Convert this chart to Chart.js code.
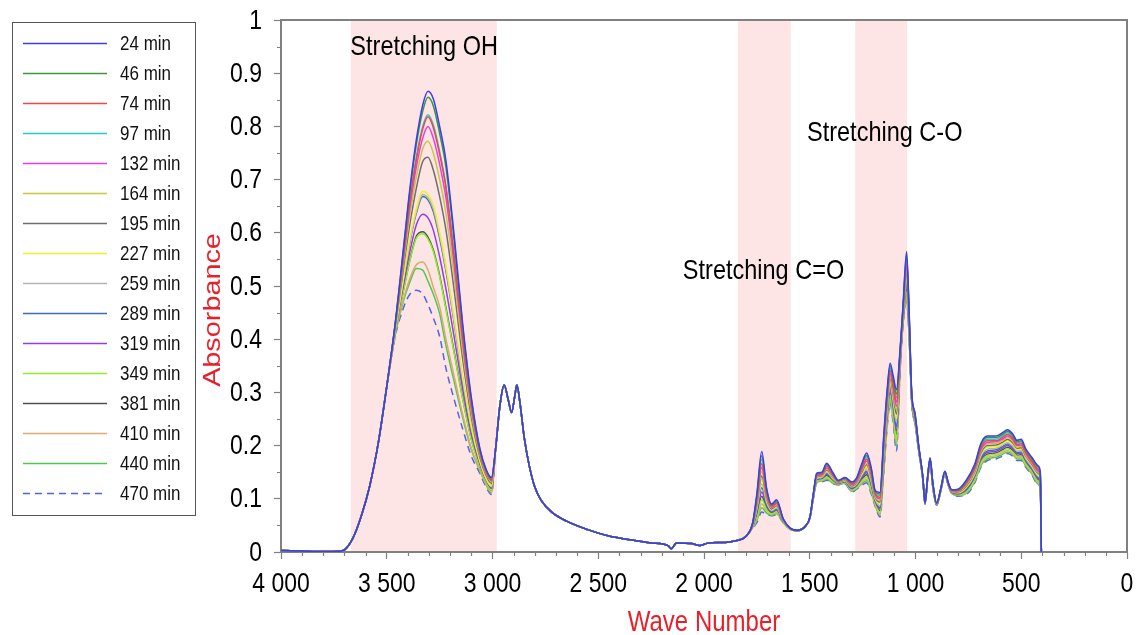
<!DOCTYPE html>
<html>
<head>
<meta charset="utf-8">
<title>FTIR absorbance</title>
<script src="https://cdn.jsdelivr.net/npm/chart.js@4.4.1/dist/chart.umd.min.js"></script>
<style>
  html, body { margin: 0; padding: 0; background: #fff; }
  canvas { display: block; }
</style>
</head>
<body>
<canvas id="ftirChart" width="1139" height="635"></canvas>
<script>
// series names
const times = ['24 min', '46 min', '74 min', '97 min', '132 min', '164 min', '195 min', '227 min',
  '259 min', '289 min', '319 min', '349 min', '381 min', '410 min', '440 min', '470 min'];

// wave numbers (cm-1), split in the regions of the spectrum
const waveEdge = [4000, 3900, 3800, 3720, 3700, 3660, 3620, 3580, 3540, 3500];
const waveOH = [3460, 3420, 3390, 3360, 3330, 3305, 3280, 3250, 3220, 3180, 3140, 3100, 3060, 3030, 3005];
const waveCH = [2985, 2965, 2945, 2925, 2910, 2895, 2885, 2870, 2850, 2825, 2800, 2770, 2720, 2650,
  2550, 2450, 2350, 2250, 2170, 2155, 2130, 2060, 2020, 1980, 1900, 1850, 1800];
const waveFinger = [1770, 1750, 1727, 1704, 1680, 1657, 1625, 1593, 1560, 1522, 1499, 1483, 1467, 1443,
  1420, 1389, 1365, 1333, 1302, 1278, 1255, 1231, 1210, 1190, 1168, 1150, 1135, 1120, 1105, 1090, 1073,
  1058, 1042, 1030, 1018, 1002, 985, 965, 955, 943, 931, 918, 900, 880, 861, 845, 829, 800, 760, 720,
  690, 660, 620, 590, 565, 540, 520, 500, 480, 450, 420, 410, 405];

// parts where all the curves lie on top of each other
const edgeAbs = [0.003, 0.002, 0.001, 0.002, 0.004, 0.026, 0.068, 0.125, 0.205, 0.311];
const chAbs = [0.195, 0.275, 0.314, 0.285, 0.262, 0.292, 0.314, 0.280, 0.215, 0.160, 0.122, 0.097, 0.075,
  0.058, 0.042, 0.030, 0.023, 0.017, 0.012, 0.006, 0.017, 0.016, 0.012, 0.017, 0.018, 0.021, 0.030];

// OH band, one array per time
const oh24 = [0.430, 0.575, 0.685, 0.775, 0.840, 0.866, 0.852, 0.800, 0.735, 0.590, 0.425, 0.290, 0.195, 0.155, 0.140];
const oh46 = [0.429, 0.571, 0.679, 0.766, 0.829, 0.855, 0.839, 0.787, 0.723, 0.580, 0.419, 0.286, 0.193, 0.154, 0.139];
const oh74 = [0.427, 0.560, 0.659, 0.738, 0.795, 0.818, 0.798, 0.748, 0.684, 0.550, 0.399, 0.276, 0.189, 0.151, 0.136];
const oh97 = [0.427, 0.561, 0.661, 0.742, 0.800, 0.822, 0.803, 0.753, 0.688, 0.553, 0.402, 0.277, 0.189, 0.151, 0.136];
const oh132 = [0.426, 0.554, 0.649, 0.724, 0.778, 0.800, 0.778, 0.729, 0.665, 0.535, 0.390, 0.270, 0.187, 0.149, 0.134];
const oh164 = [0.424, 0.546, 0.634, 0.705, 0.758, 0.772, 0.750, 0.700, 0.636, 0.513, 0.376, 0.262, 0.183, 0.147, 0.132];
const oh195 = [0.422, 0.537, 0.618, 0.684, 0.734, 0.742, 0.718, 0.668, 0.605, 0.488, 0.360, 0.253, 0.179, 0.144, 0.129];
const oh227 = [0.417, 0.517, 0.590, 0.645, 0.678, 0.672, 0.652, 0.601, 0.538, 0.436, 0.327, 0.235, 0.171, 0.138, 0.124];
const oh259 = [0.417, 0.515, 0.586, 0.640, 0.672, 0.666, 0.645, 0.595, 0.532, 0.431, 0.324, 0.233, 0.171, 0.138, 0.123];
const oh289 = [0.417, 0.514, 0.584, 0.637, 0.668, 0.662, 0.640, 0.590, 0.528, 0.428, 0.321, 0.232, 0.170, 0.137, 0.123];
const oh319 = [0.415, 0.504, 0.566, 0.615, 0.635, 0.628, 0.605, 0.555, 0.494, 0.401, 0.304, 0.222, 0.166, 0.135, 0.120];
const oh349 = [0.412, 0.493, 0.548, 0.590, 0.598, 0.588, 0.565, 0.517, 0.455, 0.371, 0.285, 0.211, 0.161, 0.131, 0.117];
const oh381 = [0.412, 0.494, 0.550, 0.594, 0.602, 0.592, 0.568, 0.520, 0.459, 0.374, 0.287, 0.212, 0.162, 0.132, 0.117];
const oh410 = [0.409, 0.476, 0.515, 0.540, 0.545, 0.530, 0.498, 0.461, 0.400, 0.328, 0.257, 0.195, 0.155, 0.127, 0.113];
const oh440 = [0.408, 0.473, 0.508, 0.533, 0.530, 0.509, 0.485, 0.448, 0.388, 0.318, 0.251, 0.192, 0.153, 0.126, 0.111];
const oh470 = [0.405, 0.460, 0.485, 0.492, 0.485, 0.465, 0.440, 0.405, 0.345, 0.285, 0.230, 0.180, 0.148, 0.122, 0.108];

// C=O, C-O and low wave number part, one array per time
const fp24 = [0.055, 0.110, 0.189, 0.120, 0.090, 0.098, 0.062, 0.045, 0.041, 0.048, 0.066, 0.110, 0.148, 0.150, 0.167, 0.148, 0.135, 0.140, 0.132, 0.140, 0.165, 0.186, 0.160, 0.115, 0.112, 0.220, 0.300, 0.355, 0.330, 0.305, 0.380, 0.470, 0.565, 0.450, 0.300, 0.260, 0.200, 0.140, 0.092, 0.140, 0.177, 0.130, 0.092, 0.120, 0.152, 0.130, 0.117, 0.118, 0.135, 0.165, 0.205, 0.218, 0.218, 0.224, 0.230, 0.222, 0.210, 0.212, 0.195, 0.178, 0.162, 0.150, 0];
const fp46 = [0.054, 0.106, 0.181, 0.117, 0.089, 0.096, 0.062, 0.045, 0.041, 0.048, 0.066, 0.109, 0.147, 0.149, 0.165, 0.147, 0.134, 0.139, 0.131, 0.139, 0.162, 0.182, 0.157, 0.113, 0.109, 0.215, 0.295, 0.350, 0.324, 0.297, 0.377, 0.467, 0.559, 0.447, 0.299, 0.259, 0.199, 0.140, 0.092, 0.140, 0.176, 0.129, 0.092, 0.120, 0.152, 0.130, 0.117, 0.117, 0.133, 0.163, 0.202, 0.215, 0.215, 0.221, 0.227, 0.219, 0.207, 0.209, 0.193, 0.176, 0.160, 0.148, 0];
const fp97 = [0.054, 0.103, 0.174, 0.113, 0.087, 0.094, 0.061, 0.045, 0.041, 0.048, 0.066, 0.109, 0.146, 0.148, 0.163, 0.145, 0.134, 0.138, 0.129, 0.137, 0.160, 0.179, 0.153, 0.111, 0.106, 0.211, 0.291, 0.345, 0.318, 0.290, 0.375, 0.465, 0.552, 0.443, 0.297, 0.257, 0.199, 0.140, 0.092, 0.140, 0.175, 0.129, 0.091, 0.120, 0.151, 0.130, 0.116, 0.116, 0.131, 0.160, 0.199, 0.212, 0.212, 0.218, 0.224, 0.216, 0.205, 0.207, 0.190, 0.174, 0.157, 0.146, 0];
const fp74 = [0.053, 0.099, 0.166, 0.110, 0.086, 0.092, 0.061, 0.045, 0.041, 0.048, 0.066, 0.108, 0.144, 0.146, 0.161, 0.144, 0.133, 0.138, 0.128, 0.136, 0.157, 0.175, 0.150, 0.109, 0.103, 0.206, 0.286, 0.340, 0.312, 0.282, 0.372, 0.462, 0.546, 0.440, 0.296, 0.256, 0.198, 0.139, 0.092, 0.139, 0.175, 0.128, 0.091, 0.119, 0.151, 0.129, 0.116, 0.115, 0.130, 0.158, 0.196, 0.209, 0.209, 0.215, 0.221, 0.214, 0.202, 0.204, 0.188, 0.171, 0.155, 0.144, 0];
const fp132 = [0.052, 0.095, 0.159, 0.107, 0.084, 0.091, 0.060, 0.045, 0.041, 0.048, 0.066, 0.107, 0.143, 0.145, 0.158, 0.143, 0.133, 0.137, 0.127, 0.134, 0.154, 0.171, 0.147, 0.107, 0.100, 0.201, 0.281, 0.335, 0.306, 0.274, 0.369, 0.459, 0.540, 0.437, 0.295, 0.255, 0.197, 0.139, 0.092, 0.139, 0.174, 0.127, 0.091, 0.119, 0.150, 0.129, 0.115, 0.115, 0.128, 0.156, 0.193, 0.206, 0.207, 0.212, 0.218, 0.211, 0.200, 0.201, 0.186, 0.169, 0.152, 0.142, 0];
const fp164 = [0.052, 0.092, 0.151, 0.103, 0.083, 0.089, 0.060, 0.044, 0.041, 0.048, 0.065, 0.107, 0.142, 0.144, 0.156, 0.141, 0.132, 0.136, 0.126, 0.133, 0.152, 0.167, 0.143, 0.105, 0.097, 0.197, 0.277, 0.330, 0.300, 0.267, 0.367, 0.457, 0.533, 0.433, 0.293, 0.253, 0.197, 0.139, 0.091, 0.139, 0.173, 0.127, 0.091, 0.119, 0.150, 0.129, 0.115, 0.114, 0.126, 0.153, 0.190, 0.203, 0.204, 0.209, 0.215, 0.208, 0.197, 0.199, 0.183, 0.167, 0.150, 0.140, 0];
const fp195 = [0.051, 0.088, 0.143, 0.100, 0.081, 0.087, 0.059, 0.044, 0.041, 0.048, 0.065, 0.106, 0.141, 0.143, 0.154, 0.140, 0.131, 0.135, 0.124, 0.131, 0.149, 0.164, 0.140, 0.103, 0.094, 0.192, 0.272, 0.325, 0.294, 0.259, 0.364, 0.454, 0.527, 0.430, 0.292, 0.252, 0.196, 0.138, 0.091, 0.138, 0.172, 0.126, 0.090, 0.118, 0.149, 0.128, 0.114, 0.113, 0.124, 0.151, 0.187, 0.200, 0.201, 0.206, 0.212, 0.205, 0.195, 0.196, 0.181, 0.165, 0.148, 0.138, 0];
const fp227 = [0.050, 0.084, 0.136, 0.097, 0.080, 0.085, 0.059, 0.044, 0.041, 0.048, 0.065, 0.105, 0.140, 0.142, 0.152, 0.139, 0.131, 0.134, 0.123, 0.130, 0.146, 0.160, 0.137, 0.101, 0.091, 0.187, 0.267, 0.320, 0.288, 0.251, 0.361, 0.451, 0.521, 0.427, 0.291, 0.251, 0.195, 0.138, 0.091, 0.138, 0.171, 0.125, 0.090, 0.118, 0.149, 0.128, 0.114, 0.112, 0.122, 0.149, 0.184, 0.197, 0.198, 0.203, 0.209, 0.202, 0.192, 0.193, 0.179, 0.163, 0.145, 0.136, 0];
const fp259 = [0.050, 0.081, 0.128, 0.093, 0.078, 0.083, 0.058, 0.044, 0.040, 0.048, 0.065, 0.105, 0.138, 0.140, 0.150, 0.137, 0.130, 0.134, 0.122, 0.128, 0.144, 0.156, 0.133, 0.099, 0.087, 0.183, 0.263, 0.315, 0.282, 0.244, 0.359, 0.449, 0.514, 0.423, 0.289, 0.249, 0.195, 0.137, 0.091, 0.137, 0.171, 0.125, 0.090, 0.117, 0.148, 0.127, 0.113, 0.111, 0.121, 0.146, 0.181, 0.193, 0.195, 0.201, 0.206, 0.199, 0.190, 0.191, 0.176, 0.160, 0.143, 0.134, 0];
const fp289 = [0.049, 0.077, 0.121, 0.090, 0.077, 0.081, 0.058, 0.044, 0.040, 0.048, 0.065, 0.104, 0.137, 0.139, 0.148, 0.136, 0.130, 0.133, 0.121, 0.127, 0.141, 0.152, 0.130, 0.097, 0.084, 0.178, 0.258, 0.310, 0.276, 0.236, 0.356, 0.446, 0.508, 0.420, 0.288, 0.248, 0.194, 0.137, 0.091, 0.137, 0.170, 0.124, 0.090, 0.117, 0.148, 0.127, 0.113, 0.110, 0.119, 0.144, 0.178, 0.190, 0.192, 0.198, 0.203, 0.197, 0.187, 0.188, 0.174, 0.158, 0.140, 0.132, 0];
const fp319 = [0.048, 0.073, 0.113, 0.087, 0.075, 0.079, 0.057, 0.044, 0.040, 0.048, 0.065, 0.103, 0.136, 0.138, 0.146, 0.135, 0.129, 0.132, 0.119, 0.125, 0.138, 0.149, 0.127, 0.095, 0.081, 0.173, 0.253, 0.305, 0.270, 0.228, 0.353, 0.443, 0.502, 0.417, 0.287, 0.247, 0.193, 0.137, 0.091, 0.137, 0.169, 0.123, 0.089, 0.117, 0.147, 0.127, 0.112, 0.109, 0.117, 0.142, 0.175, 0.187, 0.189, 0.195, 0.200, 0.194, 0.185, 0.185, 0.172, 0.156, 0.138, 0.130, 0];
const fp381 = [0.048, 0.070, 0.105, 0.083, 0.074, 0.077, 0.057, 0.043, 0.040, 0.048, 0.064, 0.103, 0.135, 0.137, 0.144, 0.133, 0.128, 0.131, 0.118, 0.124, 0.136, 0.145, 0.123, 0.093, 0.078, 0.169, 0.249, 0.300, 0.264, 0.221, 0.351, 0.441, 0.495, 0.413, 0.285, 0.245, 0.193, 0.136, 0.090, 0.136, 0.168, 0.123, 0.089, 0.116, 0.147, 0.126, 0.112, 0.108, 0.115, 0.139, 0.172, 0.184, 0.186, 0.192, 0.197, 0.191, 0.182, 0.183, 0.169, 0.154, 0.136, 0.128, 0];
const fp349 = [0.047, 0.066, 0.098, 0.080, 0.072, 0.076, 0.056, 0.043, 0.040, 0.048, 0.064, 0.102, 0.134, 0.136, 0.141, 0.132, 0.128, 0.130, 0.117, 0.122, 0.133, 0.141, 0.120, 0.091, 0.075, 0.164, 0.244, 0.295, 0.258, 0.213, 0.348, 0.438, 0.489, 0.410, 0.284, 0.244, 0.192, 0.136, 0.090, 0.136, 0.167, 0.122, 0.089, 0.116, 0.146, 0.126, 0.111, 0.108, 0.113, 0.137, 0.169, 0.181, 0.184, 0.189, 0.194, 0.188, 0.180, 0.180, 0.167, 0.152, 0.133, 0.126, 0];
const fp410 = [0.046, 0.062, 0.090, 0.077, 0.071, 0.074, 0.056, 0.043, 0.040, 0.048, 0.064, 0.101, 0.132, 0.134, 0.139, 0.131, 0.127, 0.130, 0.116, 0.121, 0.130, 0.137, 0.117, 0.089, 0.072, 0.159, 0.239, 0.290, 0.252, 0.205, 0.345, 0.435, 0.483, 0.407, 0.283, 0.243, 0.191, 0.136, 0.090, 0.136, 0.167, 0.121, 0.089, 0.116, 0.146, 0.126, 0.111, 0.107, 0.112, 0.135, 0.166, 0.178, 0.181, 0.186, 0.191, 0.185, 0.177, 0.177, 0.165, 0.149, 0.131, 0.124, 0];
const fp440 = [0.046, 0.059, 0.083, 0.073, 0.069, 0.072, 0.055, 0.043, 0.040, 0.048, 0.064, 0.101, 0.131, 0.133, 0.137, 0.129, 0.127, 0.129, 0.114, 0.119, 0.128, 0.134, 0.113, 0.087, 0.069, 0.155, 0.235, 0.285, 0.246, 0.198, 0.343, 0.433, 0.476, 0.403, 0.281, 0.241, 0.191, 0.135, 0.090, 0.135, 0.166, 0.121, 0.088, 0.115, 0.145, 0.125, 0.110, 0.106, 0.110, 0.132, 0.163, 0.175, 0.178, 0.183, 0.188, 0.183, 0.175, 0.175, 0.162, 0.147, 0.128, 0.122, 0];
const fp470 = [0.045, 0.055, 0.075, 0.070, 0.068, 0.070, 0.055, 0.043, 0.040, 0.048, 0.064, 0.100, 0.130, 0.132, 0.135, 0.128, 0.126, 0.128, 0.113, 0.118, 0.125, 0.130, 0.110, 0.085, 0.066, 0.150, 0.230, 0.280, 0.240, 0.190, 0.340, 0.430, 0.470, 0.400, 0.280, 0.240, 0.190, 0.135, 0.090, 0.135, 0.165, 0.120, 0.088, 0.115, 0.145, 0.125, 0.110, 0.105, 0.108, 0.130, 0.160, 0.172, 0.175, 0.180, 0.185, 0.180, 0.172, 0.172, 0.160, 0.145, 0.126, 0.120, 0];

const ohSeries = [oh24, oh46, oh74, oh97, oh132, oh164, oh195, oh227, oh259, oh289, oh319, oh349, oh381, oh410, oh440, oh470];
const fpSeries = [fp24, fp46, fp74, fp97, fp132, fp164, fp195, fp227, fp259, fp289, fp319, fp349, fp381, fp410, fp440, fp470];

// axis ticks
const xTickValues = [4000, 3500, 3000, 2500, 2000, 1500, 1000, 500, 0];
const xTickLabels = ['4 000', '3 500', '3 000', '2 500', '2 000', '1 500', '1 000', '500', '0'];
const yTickValues = [0, 0.1, 0.2, 0.3, 0.4, 0.5, 0.6, 0.7, 0.8, 0.9, 1];
const yTickLabels = ['0', '0.1', '0.2', '0.3', '0.4', '0.5', '0.6', '0.7', '0.8', '0.9', '1'];

// shaded regions (wave number ranges) and their labels
const bandFrom = [3670, 1840, 1285];
const bandTo = [2980, 1590, 1040];
const noteTexts = ['Stretching OH', 'Stretching C=O', 'Stretching C-O'];
const noteWave = [3672, 2100, 1513];
const noteAbs = [0.948, 0.527, 0.788];

const lineColors = ['#3c3cf0', '#3c963c', '#f04646', '#28c8d2', '#e63ce6', '#c8c83c', '#6e6e6e', '#f0f028',
  '#b4b4b4', '#3c6eb4', '#963ce6', '#8cf028', '#505050', '#dcaa6e', '#50c850', '#5064e6'];
const lineDashes = times.map((t, i) => i === times.length - 1 ? [7, 5] : []);

const FONT = "'Liberation Sans', Arial, sans-serif";
const AXIS_GREY = '#808080';
const TITLE_RED = '#e8202a';
const STRETCH = 1.2; // the text of the original is drawn taller than wide

const waves = [...waveEdge, ...waveOH, ...waveCH, ...waveFinger];

const datasets = times.map((label, i) => {
  const abs = [...edgeAbs, ...ohSeries[i], ...chAbs, ...fpSeries[i]];
  return {
    label: label,
    data: waves.map((w, j) => ({ x: w, y: abs[j] })),
    borderColor: lineColors[i],
    borderWidth: 1.5,
    borderDash: lineDashes[i],
    pointRadius: 0,
    fill: false,
    cubicInterpolationMode: 'monotone'
  };
});

function tallText(ctx, text, x, y, size, align, color, angle) {
  ctx.save();
  ctx.translate(x, y);
  ctx.scale(1, STRETCH);
  if (angle) ctx.rotate(angle);
  ctx.font = size + 'px ' + FONT;
  ctx.fillStyle = color;
  ctx.textAlign = align;
  ctx.textBaseline = 'middle';
  ctx.fillText(text, 0, 0);
  ctx.restore();
}

// pink regions behind the curves
const bandPlugin = {
  id: 'bands',
  beforeDatasetsDraw(chart) {
    const { ctx, chartArea, scales } = chart;
    ctx.save();
    ctx.fillStyle = 'rgba(250, 190, 190, 0.4)';
    bandFrom.forEach((from, i) => {
      const x1 = scales.x.getPixelForValue(from);
      const x2 = scales.x.getPixelForValue(bandTo[i]);
      ctx.fillRect(Math.min(x1, x2), chartArea.top + 1, Math.abs(x2 - x1), chartArea.bottom - chartArea.top - 2);
    });
    ctx.restore();
  }
};

// top and right border, minor ticks, all the text round the plot
const framePlugin = {
  id: 'frame',
  afterDatasetsDraw(chart) {
    const { ctx, chartArea, scales } = chart;
    ctx.save();
    ctx.strokeStyle = AXIS_GREY;
    ctx.lineWidth = 2;
    ctx.beginPath();
    ctx.moveTo(chartArea.left, chartArea.top);
    ctx.lineTo(chartArea.right, chartArea.top);
    ctx.lineTo(chartArea.right, chartArea.bottom);
    ctx.stroke();

    ctx.lineWidth = 1.2;
    ctx.beginPath();
    for (let w = 100; w < 4000; w += 100) {
      if (w % 500 === 0) continue;
      const px = Math.round(scales.x.getPixelForValue(w)) + 0.5;
      ctx.moveTo(px, chartArea.bottom);
      ctx.lineTo(px, chartArea.bottom + 4);
    }
    for (let k = 1; k < 20; k += 2) {
      const py = Math.round(scales.y.getPixelForValue(k * 0.05)) + 0.5;
      ctx.moveTo(chartArea.left - 4, py);
      ctx.lineTo(chartArea.left, py);
    }
    ctx.stroke();
    ctx.restore();

    xTickValues.forEach((v, i) => {
      tallText(ctx, xTickLabels[i], scales.x.getPixelForValue(v), chartArea.bottom + 32, 23, 'center', '#000');
    });
    yTickValues.forEach((v, i) => {
      tallText(ctx, yTickLabels[i], chartArea.left - 19, scales.y.getPixelForValue(v) + 1, 23, 'right', '#000');
    });
    tallText(ctx, 'Wave Number', (chartArea.left + chartArea.right) / 2, 623, 24, 'center', TITLE_RED);
    tallText(ctx, 'Absorbance', 213, 310, 24, 'center', TITLE_RED, -Math.PI / 2);

    noteTexts.forEach((t, i) => {
      tallText(ctx, t, scales.x.getPixelForValue(noteWave[i]), scales.y.getPixelForValue(noteAbs[i]), 23.5, 'left', '#000');
    });
  }
};

// boxed legend on the left
const legendPlugin = {
  id: 'boxLegend',
  afterDraw(chart) {
    const { ctx } = chart;
    ctx.save();
    ctx.strokeStyle = '#555';
    ctx.lineWidth = 1;
    ctx.strokeRect(12.5, 22.5, 183, 493);
    chart.data.datasets.forEach((ds, i) => {
      const y = 43 + i * 30;
      ctx.strokeStyle = ds.borderColor;
      ctx.lineWidth = 1.6;
      ctx.setLineDash(ds.borderDash);
      ctx.beginPath();
      ctx.moveTo(23, y + 0.5);
      ctx.lineTo(107, y + 0.5);
      ctx.stroke();
      ctx.setLineDash([]);
      tallText(ctx, ds.label, 120, y + 1, 17, 'left', '#111');
    });
    ctx.restore();
  }
};

new Chart(document.getElementById('ftirChart').getContext('2d'), {
  type: 'line',
  data: { datasets: datasets },
  plugins: [bandPlugin, framePlugin, legendPlugin],
  options: {
    responsive: false,
    animation: false,
    events: [],
    layout: { padding: { left: 200, right: 12, top: 20, bottom: 0 } },
    plugins: {
      legend: { display: false },
      tooltip: { enabled: false }
    },
    scales: {
      x: {
        type: 'linear',
        reverse: true,
        min: 0,
        max: 4000,
        afterFit: axis => { axis.height = 83; },
        ticks: {
          stepSize: 500,
          autoSkip: false,
          maxRotation: 0,
          color: 'rgba(0,0,0,0)',
          font: { size: 22, family: FONT }
        },
        grid: { drawOnChartArea: false, tickLength: 7, tickColor: AXIS_GREY, tickWidth: 1.2 },
        border: { color: AXIS_GREY, width: 2 }
      },
      y: {
        min: 0,
        max: 1,
        afterFit: axis => { axis.width = 81; },
        ticks: {
          stepSize: 0.1,
          color: 'rgba(0,0,0,0)',
          font: { size: 22, family: FONT }
        },
        grid: { drawOnChartArea: false, tickLength: 7, tickColor: AXIS_GREY, tickWidth: 1.2 },
        border: { color: AXIS_GREY, width: 2 }
      }
    }
  }
});
</script>
</body>
</html>
